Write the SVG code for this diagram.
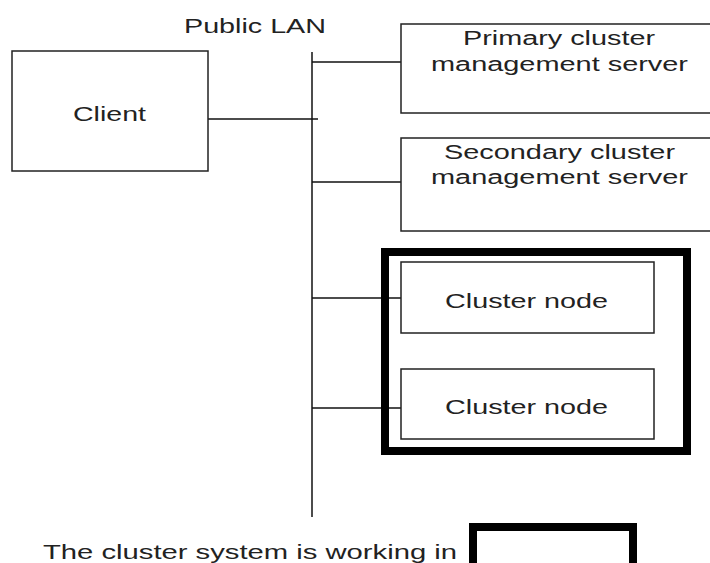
<svg xmlns="http://www.w3.org/2000/svg" width="710" height="563" viewBox="0 0 710 563">
<style>
.box{fill:#fff;stroke:#222;stroke-width:1.5}
.thick{fill:none;stroke:#000;stroke-width:8}
.ln{stroke:#111;stroke-width:1.5;fill:none}
text{font-family:"Liberation Sans",Arial,sans-serif;font-size:20px;fill:#222}
</style>
<rect x="0" y="0" width="710" height="563" fill="#fff"/>
<g id="connectors">
<line class="ln" x1="312" y1="52" x2="312" y2="517"/>
<line class="ln" x1="208" y1="119" x2="318" y2="119"/>
<line class="ln" x1="312" y1="62" x2="401" y2="62"/>
<line class="ln" x1="312" y1="182" x2="401" y2="182"/>
<line class="ln" x1="312" y1="298" x2="401" y2="298"/>
<line class="ln" x1="312" y1="408" x2="401" y2="408"/>
</g>
<g id="lan-label">
<text x="184" y="33" textLength="142" lengthAdjust="spacingAndGlyphs">Public LAN</text>
</g>
<g id="client">
<rect class="box" x="12" y="51" width="196" height="120"/>
<text x="73" y="121" textLength="73" lengthAdjust="spacingAndGlyphs">Client</text>
</g>
<g id="primary">
<rect class="box" x="401" y="24" width="320" height="89"/>
<text x="463" y="45" textLength="192" lengthAdjust="spacingAndGlyphs">Primary cluster</text>
<text x="431" y="71" textLength="257" lengthAdjust="spacingAndGlyphs">management server</text>
</g>
<g id="secondary">
<rect class="box" x="401" y="138" width="320" height="93"/>
<text x="444" y="159" textLength="231" lengthAdjust="spacingAndGlyphs">Secondary cluster</text>
<text x="431" y="184" textLength="257" lengthAdjust="spacingAndGlyphs">management server</text>
</g>
<g id="cluster">
<rect class="thick" x="385" y="252" width="302" height="199"/>
</g>
<g id="node1">
<rect class="box" x="401" y="262" width="253" height="71"/>
<text x="445" y="308" textLength="163" lengthAdjust="spacingAndGlyphs">Cluster node</text>
</g>
<g id="node2">
<rect class="box" x="401" y="369" width="253" height="70"/>
<text x="445" y="414" textLength="163" lengthAdjust="spacingAndGlyphs">Cluster node</text>
</g>
<g id="legend">
<text x="43" y="559" textLength="414" lengthAdjust="spacingAndGlyphs">The cluster system is working in</text>
<rect class="thick" x="473" y="527" width="160" height="50"/>
</g>
</svg>
